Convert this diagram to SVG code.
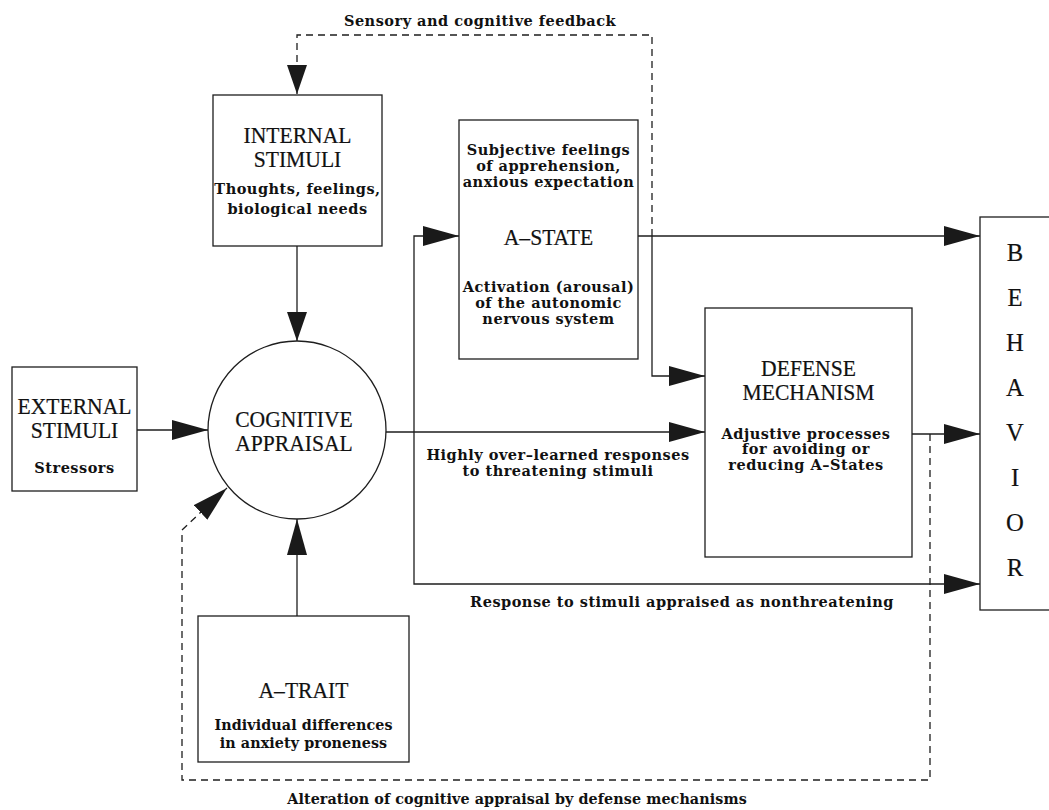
<svg xmlns="http://www.w3.org/2000/svg" width="1049" height="810" viewBox="0 0 1049 810">
  <style>
    .box { fill: #fff; stroke: #1e1e1e; stroke-width: 1.3; }
    .ln { fill: none; stroke: #1e1e1e; stroke-width: 1.3; }
    .dash { fill: none; stroke: #1e1e1e; stroke-width: 1.3; stroke-dasharray: 7 5; }
    .big { font-family: "Liberation Serif", "Times New Roman", serif; font-size: 24px; fill: #111; stroke: #111; stroke-width: 0.2; text-anchor: middle;
           transform-box: fill-box; transform-origin: center; transform: scaleX(0.9); }
    .letter { font-size: 26px; transform: scaleX(0.95); }
    .sm { font-family: "DejaVu Serif", serif; font-weight: bold; font-size: 14.5px; letter-spacing: 0.5px; fill: #111; text-anchor: middle; }
    .sm2 { font-family: "DejaVu Serif", serif; font-weight: bold; font-size: 14.3px; letter-spacing: 0.1px; fill: #111; text-anchor: middle; }
    .head { fill: #1a1a1a; }
  </style>
  <defs>
    <marker id="arrow" markerUnits="userSpaceOnUse" viewBox="0 0 36 20" refX="36" refY="10" markerWidth="36" markerHeight="20" orient="auto">
      <path class="head" d="M0,0 L36,10 L0,20 Z"/>
    </marker>
    <marker id="arrow-s" markerUnits="userSpaceOnUse" viewBox="0 0 29 20" refX="29" refY="10" markerWidth="29" markerHeight="20" orient="auto">
      <path class="head" d="M0,0 L29,10 L0,20 Z"/>
    </marker>
  </defs>

  <rect width="1049" height="810" fill="#fff"/>

  <!-- connectors -->
  <g id="connectors">
    <!-- feedback loop from A-State back to internal stimuli -->
    <path class="dash" d="M652,236 V35 H297 V94" marker-end="url(#arrow-s)"/>
    <!-- internal stimuli to appraisal -->
    <path class="ln" d="M297,246 V341" marker-end="url(#arrow-s)"/>
    <!-- external stimuli to appraisal -->
    <path class="ln" d="M137,430 H208" marker-end="url(#arrow)"/>
    <!-- A-Trait to appraisal -->
    <path class="ln" d="M297,616 V519" marker-end="url(#arrow)"/>
    <!-- appraisal output: over-learned responses to defense -->
    <path class="ln" d="M386,432 H705" marker-end="url(#arrow)"/>
    <!-- appraisal branch up to A-State -->
    <path class="ln" d="M414,432 V236 H459" marker-end="url(#arrow)"/>
    <!-- appraisal branch down to behavior (nonthreatening) -->
    <path class="ln" d="M414,432 V584 H980" marker-end="url(#arrow)"/>
    <!-- A-State to behavior -->
    <path class="ln" d="M638,236 H980" marker-end="url(#arrow)"/>
    <!-- A-State to defense -->
    <path class="ln" d="M652,236 V376 H705" marker-end="url(#arrow)"/>
    <!-- defense to behavior -->
    <path class="ln" d="M912,434 H980" marker-end="url(#arrow)"/>
    <!-- alteration loop from defense back to appraisal -->
    <path class="dash" d="M930,434 V780 H182 V530 L201,512 L227,488" marker-end="url(#arrow)"/>

    <text class="sm" x="480" y="26">Sensory and cognitive feedback</text>
    <text class="sm" x="558" y="460">Highly over–learned responses</text>
    <text class="sm" x="558" y="476">to threatening stimuli</text>
    <text class="sm" x="682" y="607">Response to stimuli appraised as nonthreatening</text>
    <text class="sm2" x="517" y="804">Alteration of cognitive appraisal by defense mechanisms</text>
  </g>

  <g id="internal-stimuli">
    <rect class="box" x="213" y="95" width="169" height="151"/>
    <text class="big" x="297.5" y="143">INTERNAL</text>
    <text class="big" x="297.5" y="167">STIMULI</text>
    <text class="sm" x="297.5" y="194">Thoughts, feelings,</text>
    <text class="sm" x="297.5" y="214">biological needs</text>
  </g>

  <g id="external-stimuli">
    <rect class="box" x="12" y="367" width="125" height="124"/>
    <text class="big" x="74.5" y="414">EXTERNAL</text>
    <text class="big" x="74.5" y="438">STIMULI</text>
    <text class="sm" x="74.5" y="473">Stressors</text>
  </g>

  <g id="cognitive-appraisal">
    <circle class="box" cx="297" cy="430" r="89"/>
    <text class="big" x="294" y="427">COGNITIVE</text>
    <text class="big" x="294" y="451">APPRAISAL</text>
  </g>

  <g id="a-state">
    <rect class="box" x="459" y="120" width="179" height="239"/>
    <text class="sm" x="548.5" y="155">Subjective feelings</text>
    <text class="sm" x="548.5" y="171">of apprehension,</text>
    <text class="sm" x="548.5" y="187">anxious expectation</text>
    <text class="big" x="548.5" y="245">A–STATE</text>
    <text class="sm" x="548.5" y="292">Activation (arousal)</text>
    <text class="sm" x="548.5" y="308">of the autonomic</text>
    <text class="sm" x="548.5" y="324">nervous system</text>
  </g>

  <g id="defense-mechanism">
    <rect class="box" x="705" y="308" width="207" height="249"/>
    <text class="big" x="808.5" y="376">DEFENSE</text>
    <text class="big" x="808.5" y="400">MECHANISM</text>
    <text class="sm" x="806" y="439">Adjustive processes</text>
    <text class="sm" x="806" y="454">for avoiding or</text>
    <text class="sm" x="806" y="470">reducing A–States</text>
  </g>

  <g id="a-trait">
    <rect class="box" x="198" y="616" width="211" height="146"/>
    <text class="big" x="303.5" y="698">A–TRAIT</text>
    <text class="sm2" x="303.5" y="730">Individual differences</text>
    <text class="sm2" x="303.5" y="748">in anxiety proneness</text>
  </g>

  <g id="behavior">
    <rect class="box" x="980" y="217" width="80" height="393"/>
    <text class="big letter" x="1015" y="261">B</text>
    <text class="big letter" x="1015" y="306">E</text>
    <text class="big letter" x="1015" y="351">H</text>
    <text class="big letter" x="1015" y="396">A</text>
    <text class="big letter" x="1015" y="441">V</text>
    <text class="big letter" x="1015" y="486">I</text>
    <text class="big letter" x="1015" y="531">O</text>
    <text class="big letter" x="1015" y="576">R</text>
  </g>
</svg>
